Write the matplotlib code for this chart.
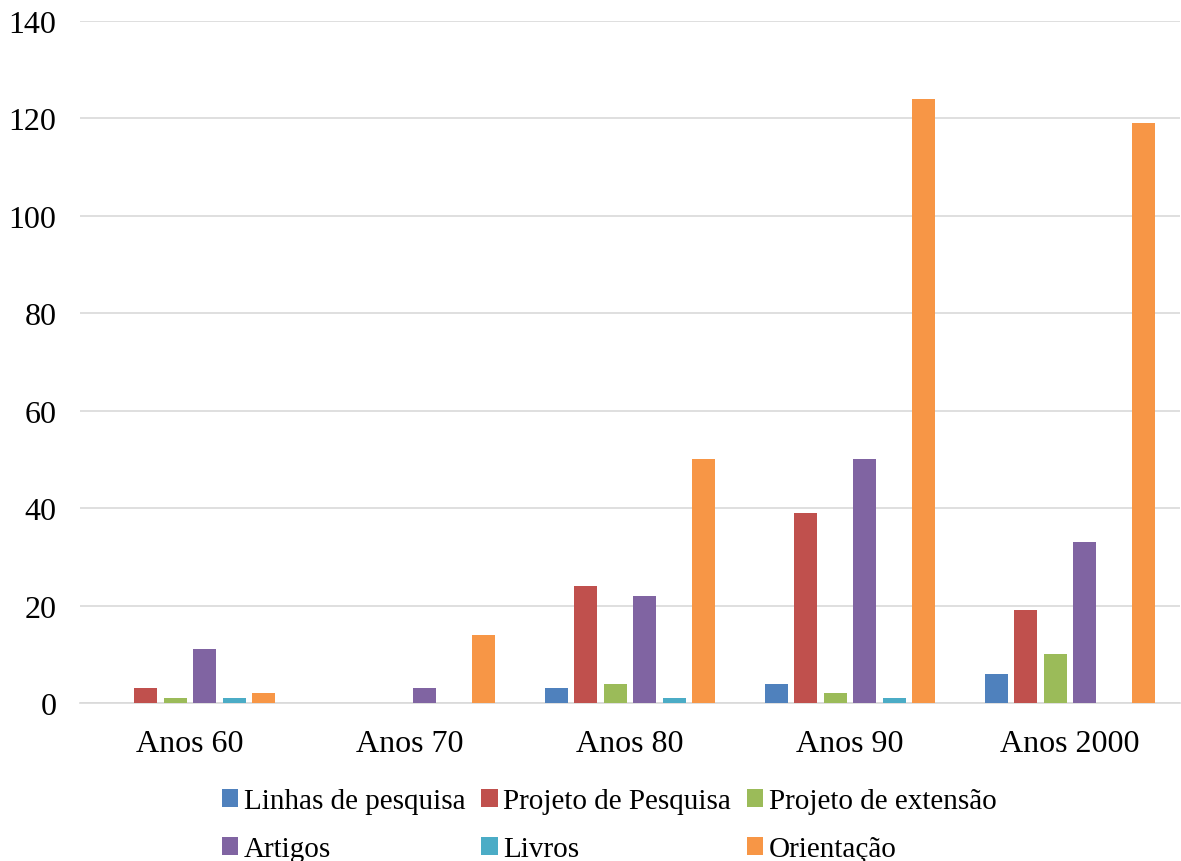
import matplotlib
matplotlib.use("Agg")
import matplotlib.pyplot as plt
import numpy as np

categories = ["Anos 60", "Anos 70", "Anos 80", "Anos 90", "Anos 2000"]
series_names = ["Linhas de pesquisa", "Projeto de Pesquisa", "Projeto de extensão",
                "Artigos", "Livros", "Orientação"]
linhas = [0, 0, 3, 4, 6]
projeto_pesquisa = [3, 0, 24, 39, 19]
projeto_extensao = [1, 0, 4, 2, 10]
artigos = [11, 3, 22, 50, 33]
livros = [1, 0, 1, 1, 0]
orientacao = [2, 14, 50, 124, 119]
series_values = [linhas, projeto_pesquisa, projeto_extensao, artigos, livros, orientacao]
colors = ["#4F81BD", "#C0504D", "#9BBB59", "#8064A2", "#4BACC6", "#F79646"]
y_ticks = [0, 20, 40, 60, 80, 100, 120, 140]

plt.rcParams['font.family'] = ['Liberation Serif', 'DejaVu Serif']

fig = plt.figure(figsize=(11.81, 8.62), dpi=100)
ax = fig.add_axes([80/1181, 158/862, 1100/1181, 682/862])

x = np.arange(len(categories))
pitch = 0.1336
width = 0.1045
handles = []
for i, (name, vals, c) in enumerate(zip(series_names, series_values, colors)):
    off = (i - 2.5) * pitch
    h = ax.bar(x + off, vals, width=width, color=c, label=name, zorder=3)
    handles.append(h)

ax.set_xlim(-0.5, len(categories) - 0.5)
ax.set_ylim(0, 140)
ax.set_yticks(y_ticks)
ax.set_yticklabels([str(t) for t in y_ticks], fontsize=23)
ax.set_xticks(x)
ax.set_xticklabels(categories, fontsize=23)
ax.tick_params(axis='both', length=0)
ax.tick_params(axis='y', pad=17)
ax.tick_params(axis='x', pad=19)
ax.grid(axis='y', color='#d9d9d9', linewidth=1.2, zorder=0)
for s in ['top', 'right', 'left']:
    ax.spines[s].set_visible(False)
ax.spines['bottom'].set_color('#d9d9d9')
ax.spines['bottom'].set_linewidth(1.2)

order = [0, 3, 1, 4, 2, 5]
leg = fig.legend(handles=[handles[k] for k in order],
                 labels=[series_names[k] for k in order], loc='lower center',
                 bbox_to_anchor=(0.516, -0.032), ncol=3, frameon=False, fontsize=21,
                 handlelength=0.55, handleheight=0.55, handletextpad=0.2,
                 columnspacing=0.55, labelspacing=0.75)

fig.savefig("out.png", dpi=100)
